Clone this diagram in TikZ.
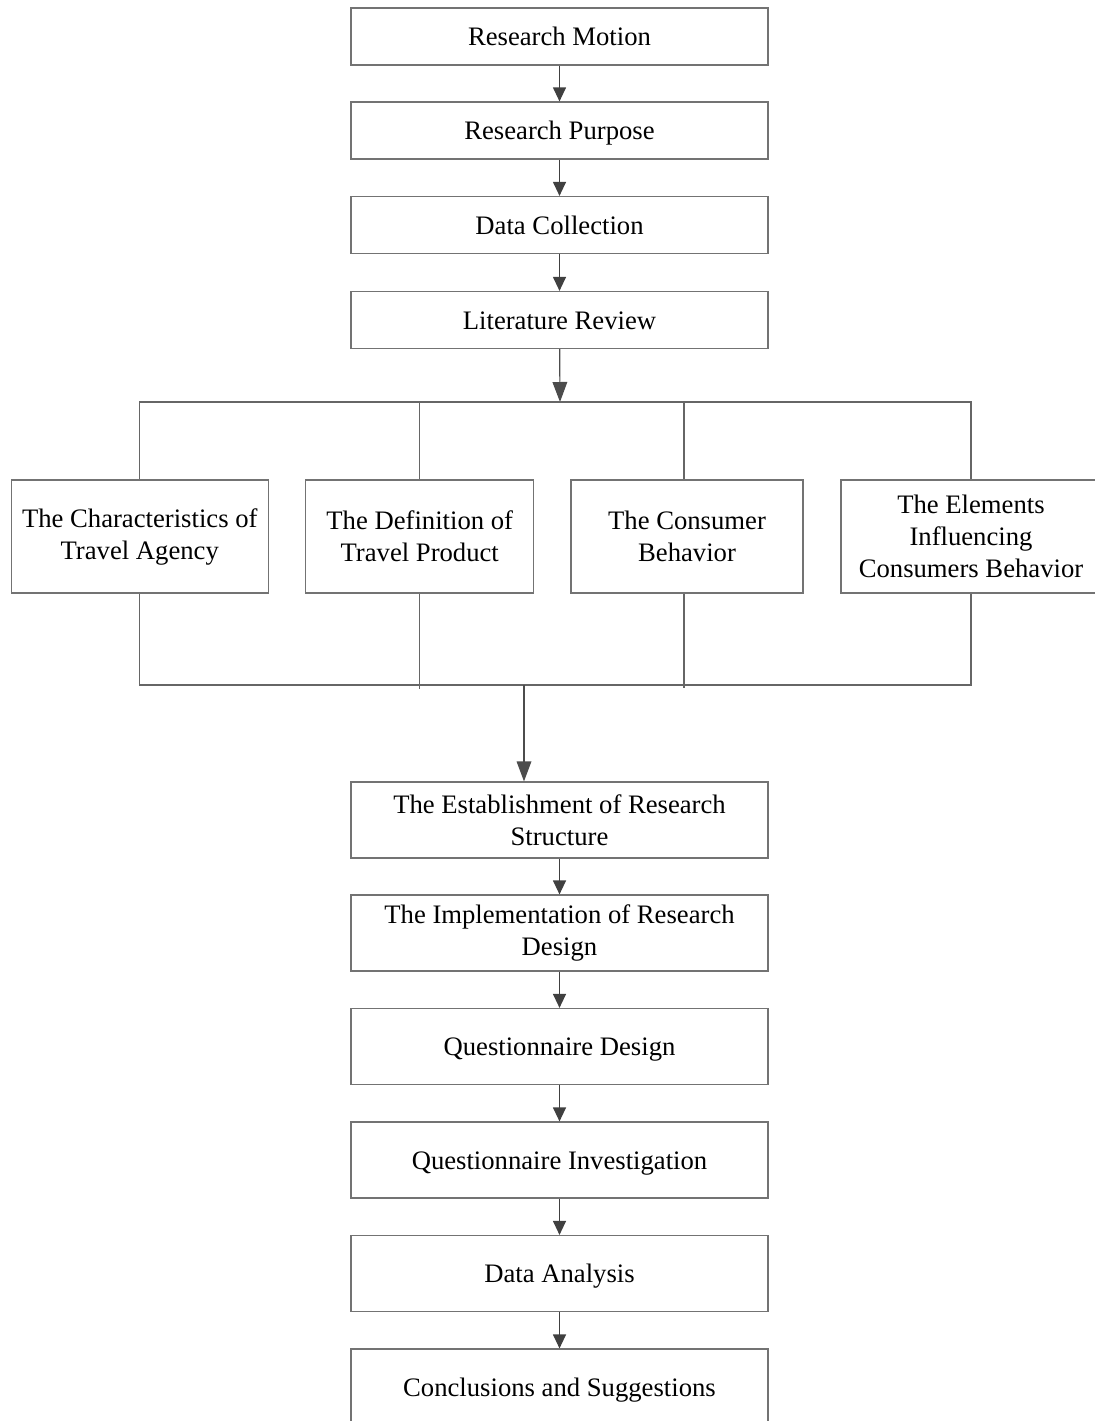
\documentclass[tikz,border=0pt]{standalone}
\usepackage{fontspec}
\setmainfont{Liberation Serif}
\usetikzlibrary{arrows.meta}

\tikzset{
    stagebox/.style={draw=black!55, line width=0.9pt, align=center, inner sep=0pt,
        minimum width=312.75pt, minimum height=42.75pt, font=\fontsize{20}{24}\selectfont},
    oneline/.style={text height=14pt, text depth=0.5pt},
    tallbox/.style={stagebox, minimum height=57pt},
    topicbox/.style={stagebox, minimum height=84.75pt},
    flow/.style={draw=black!75, line width=0.9pt, -{Triangle[length=10.5pt, width=9.75pt]}},
    bigflow/.style={draw=black!70, line width=0.9pt, -{Triangle[length=15pt, width=11pt]}},
    bus/.style={draw=black!60, line width=0.9pt}
}

\begin{document}
\begin{tikzpicture}[x=0.75pt, y=-0.75pt]
            \useasboundingbox (0,0) rectangle (1095,1421);

            \node[stagebox, oneline] (motion) at (559.5, 36.5) {Research Motion};
            \node[stagebox, oneline] (purpose) at (559.5, 130.5) {Research Purpose};
            \node[stagebox, oneline] (collect) at (559.5, 225) {Data Collection};
            \node[stagebox, oneline] (review) at (559.5, 320) {Literature Review};

            \draw[flow] (motion) -- (purpose);
            \draw[flow] (purpose) -- (collect);
            \draw[flow] (collect) -- (review);

            % the four topics of the review
            \node[topicbox, minimum width=192.75pt] (agency) at (139.75, 536.5) {The Characteristics of\\Travel Agency};
            \node[topicbox, minimum width=171pt] (product) at (419.75, 536.5) {The Definition of\\Travel Product};
            \node[topicbox, minimum width=174pt] (consumer) at (687, 536.5) {The Consumer\\Behavior};
            \node[topicbox, minimum width=195pt] (elements) at (971, 536.5) {The Elements\\Influencing\\Consumers Behavior};

            \coordinate (topbus) at (560, 402);
            \coordinate (lowbus) at (524, 685);

            \draw[bigflow] (review) -- (topbus);
            \draw[bus] (agency.north) |- (topbus) -| (elements.north);
            \draw[bus] (product.north) -- (product.north |- topbus);
            \draw[bus] (consumer.north -| 684, 0) -- (684, 402);

            \draw[bus] (agency.south) |- (lowbus) -| (elements.south);
            \draw[bus] (product.south) -- ++(0, 95);
            \draw[bus] (consumer.south -| 684, 0) -- (684, 688);

            \node[tallbox] (structure) at (559.5, 820) {The Establishment of Research\\Structure};
            \node[tallbox] (design) at (559.5, 933) {The Implementation of Research\\Design};
            \node[tallbox, oneline] (qdesign) at (559.5, 1046.5) {Questionnaire Design};
            \node[tallbox, oneline] (qinvest) at (559.5, 1160) {Questionnaire Investigation};
            \node[tallbox, oneline] (analysis) at (559.5, 1273.5) {Data Analysis};
            \node[tallbox, oneline] (conclude) at (559.5, 1387) {Conclusions and Suggestions};

            \draw[bigflow] (lowbus) -- (lowbus |- structure.north);
            \draw[flow] (structure) -- (design);
            \draw[flow] (design) -- (qdesign);
            \draw[flow] (qdesign) -- (qinvest);
            \draw[flow] (qinvest) -- (analysis);
            \draw[flow] (analysis) -- (conclude);
        \end{tikzpicture}
\end{document}
